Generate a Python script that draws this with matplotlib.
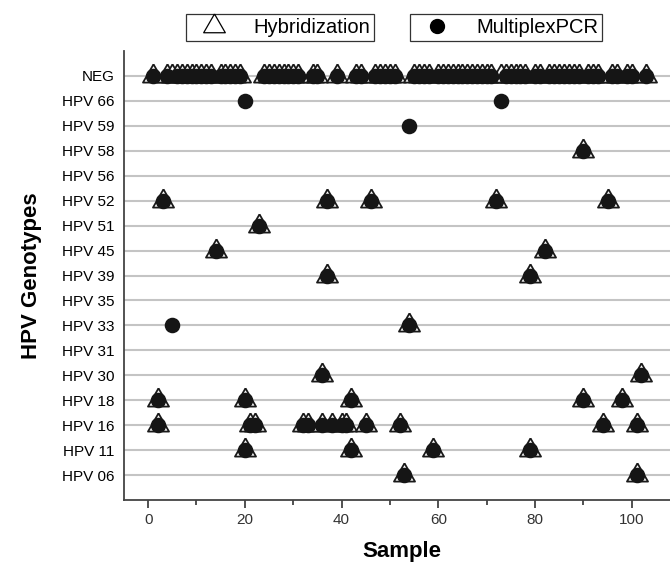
import matplotlib.pyplot as plt
from matplotlib.lines import Line2D

plt.rcParams['font.family'] = ['Liberation Sans', 'DejaVu Sans']

# row labels, bottom to top
genotypes = ['HPV 06', 'HPV 11', 'HPV 16', 'HPV 18', 'HPV 30', 'HPV 31', 'HPV 33',
             'HPV 35', 'HPV 39', 'HPV 45', 'HPV 51', 'HPV 52', 'HPV 56', 'HPV 58',
             'HPV 59', 'HPV 66', 'NEG']

# sample numbers per genotype
neg_hyb = [1, 4, 5, 6, 7, 8, 9, 10, 11, 12, 13, 15, 16, 17, 18, 19, 24, 25, 26, 27, 28,
           29, 30, 31, 34, 35, 39, 43, 44, 47, 48, 49, 50, 51, 55, 56, 57, 58, 60, 61,
           62, 63, 64, 65, 66, 67, 68, 69, 70, 71, 73, 74, 75, 76, 77, 78, 80, 81, 83,
           84, 85, 86, 87, 88, 89, 91, 92, 93, 96, 97, 99, 100, 103]
neg_pcr = [1, 4, 6, 7, 8, 9, 10, 11, 12, 13, 15, 16, 17, 18, 19, 24, 25, 26, 27, 28,
           29, 30, 31, 34, 35, 39, 43, 44, 47, 48, 49, 50, 51, 55, 56, 57, 58, 60, 61,
           62, 63, 64, 65, 66, 67, 68, 69, 70, 71, 74, 75, 76, 77, 78, 80, 81, 83,
           84, 85, 86, 87, 88, 89, 91, 92, 93, 96, 97, 99, 100, 103]
hpv66_pcr = [20, 73]
hpv59_pcr = [54]
hpv58 = [90]
hpv52 = [3, 37, 46, 72, 95]
hpv51 = [23]
hpv45 = [14, 82]
hpv39 = [37, 79]
hpv33_hyb = [54]
hpv33_pcr = [5, 54]
hpv30 = [36, 102]
hpv18 = [2, 20, 42, 90, 98]
hpv16 = [2, 21, 22, 32, 33, 36, 38, 40, 41, 45, 52, 94, 101]
hpv11 = [20, 42, 59, 79]
hpv06 = [53, 101]

hyb_rows = [('NEG', neg_hyb), ('HPV 58', hpv58), ('HPV 52', hpv52), ('HPV 51', hpv51),
            ('HPV 45', hpv45), ('HPV 39', hpv39), ('HPV 33', hpv33_hyb), ('HPV 30', hpv30),
            ('HPV 18', hpv18), ('HPV 16', hpv16), ('HPV 11', hpv11), ('HPV 06', hpv06)]
pcr_rows = [('NEG', neg_pcr), ('HPV 66', hpv66_pcr), ('HPV 59', hpv59_pcr), ('HPV 58', hpv58),
            ('HPV 52', hpv52), ('HPV 51', hpv51), ('HPV 45', hpv45), ('HPV 39', hpv39),
            ('HPV 33', hpv33_pcr), ('HPV 30', hpv30), ('HPV 18', hpv18), ('HPV 16', hpv16),
            ('HPV 11', hpv11), ('HPV 06', hpv06)]

# equilateral triangle centred on its centroid
tri = [(0, 1), (-0.866, -0.5), (0.866, -0.5), (0, 1)]

fig = plt.figure(figsize=(6.7, 5.71), dpi=100)
ax = fig.add_axes([0.185, 0.124, 0.83, 0.787])

for g in genotypes:
    ax.axhline(genotypes.index(g), color='#c4c4c4', lw=1.5, zorder=0)

for label, xs in hyb_rows:
    ax.plot(xs, [genotypes.index(label)] * len(xs), ls='none', marker=tri, ms=17.5,
            mfc='white', mec='#1a1a1a', mew=1.3, zorder=2)
for label, xs in pcr_rows:
    ax.plot(xs, [genotypes.index(label)] * len(xs), ls='none', marker='o', ms=11.2,
            mfc='#151515', mec='#151515', mew=0, zorder=3)

ax.set_xlim(-5, 110)
ax.set_ylim(-1, 17)
ax.set_xticks([0, 20, 40, 60, 80, 100])
ax.set_xticks([10, 30, 50, 70, 90], minor=True)
ax.set_yticks(range(len(genotypes)))
ax.set_yticklabels(genotypes)
ax.tick_params(axis='x', which='major', length=6, width=1.2, labelsize=11, colors='#333333')
ax.tick_params(axis='x', which='minor', length=3.5, width=1.2, colors='#333333')
ax.tick_params(axis='y', length=0, labelsize=11, pad=7)
for s in ['top', 'right']:
    ax.spines[s].set_visible(False)
for s in ['left', 'bottom']:
    ax.spines[s].set_color('#444444')
    ax.spines[s].set_linewidth(1.3)

ax.set_xlabel('Sample', fontsize=16, fontweight='bold', labelpad=10)
ax.set_ylabel('HPV Genotypes', fontsize=16, fontweight='bold', labelpad=14)

h1 = Line2D([], [], ls='none', marker=tri, ms=18, mfc='white', mec='black', mew=0.9)
h2 = Line2D([], [], ls='none', marker='o', ms=10, mfc='black', mec='black')
for h, txt, cx in [(h1, 'Hybridization', 0.418), (h2, 'MultiplexPCR', 0.755)]:
    leg = fig.legend([h], [txt], loc='center', bbox_to_anchor=(cx, 0.952), fontsize=14.5,
                     fancybox=False, edgecolor='#333333', framealpha=1, borderpad=0.2,
                     handlelength=2.3, handletextpad=0.8, borderaxespad=0)
    leg.get_frame().set_linewidth(0.9)

fig.savefig('out.png', dpi=100)
